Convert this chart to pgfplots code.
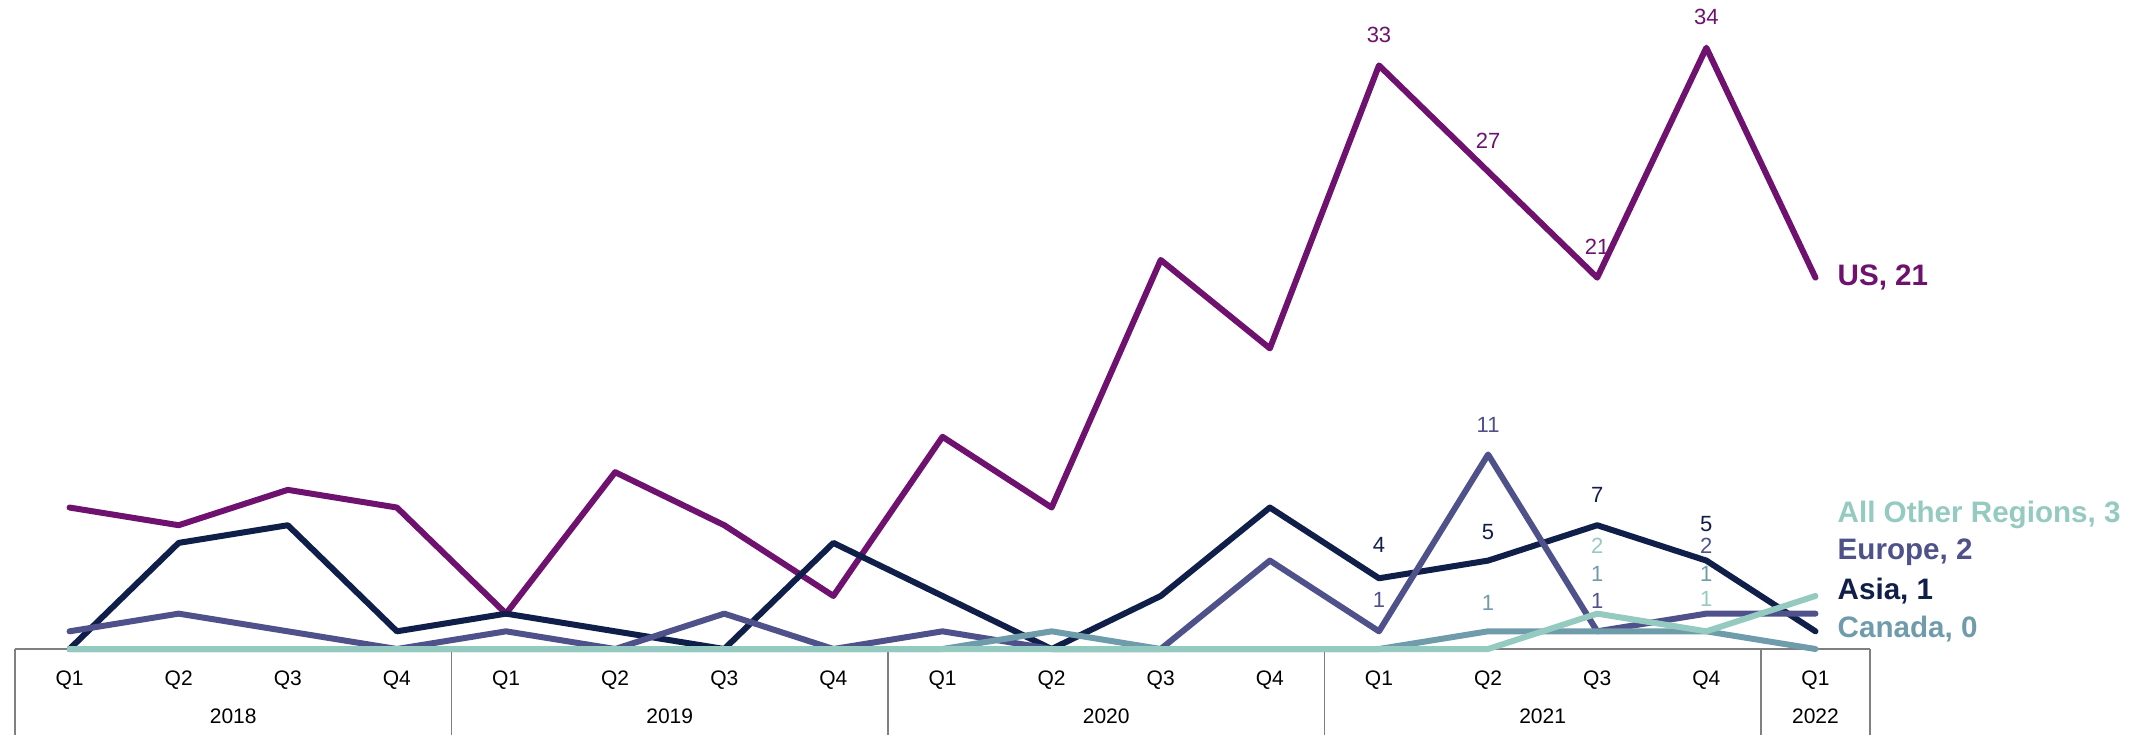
\documentclass[border=0pt]{standalone}
\usepackage{pgfplots}
\pgfplotsset{compat=1.18}
\usepackage{fontspec}
\setmainfont{Liberation Sans}
\definecolor{cUS}{RGB}{110,17,111}
\definecolor{cAsia}{RGB}{16,30,74}
\definecolor{cEur}{RGB}{78,81,138}
\definecolor{cCan}{RGB}{111,156,171}
\definecolor{cOth}{RGB}{148,202,192}
\definecolor{cBox}{RGB}{128,128,128}
\begin{document}
\begin{tikzpicture}
\begin{axis}[
  scale only axis, width=927.5pt, height=324.5pt,
  xmin=-0.5, xmax=16.5, ymin=0, ymax=36.7,
  clip=false,
  axis line style={draw=none}, tick style={draw=none},
  ytick=\empty,
  xtick={0,...,16},
  xticklabels={Q1,Q2,Q3,Q4,Q1,Q2,Q3,Q4,Q1,Q2,Q3,Q4,Q1,Q2,Q3,Q4,Q1},
  xticklabel style={font=\fontsize{10.5}{12}\selectfont, anchor=center, yshift=-15.5pt},
  every axis plot/.append style={line width=3pt, line join=round, line cap=round, mark=none},
]
\draw[cBox, line width=0.8pt] (axis cs:-0.5,0) -- (axis cs:16.5,0);
\foreach \xx in {-0.5,3.5,7.5,11.5,15.5,16.5}{
  \edef\tmp{\noexpand\draw[cBox, line width=0.8pt] (axis cs:\xx,0) -- ([yshift=-43pt]axis cs:\xx,0);}\tmp
}
\addplot[cUS] coordinates {(0,8)(1,7)(2,9)(3,8)(4,2)(5,10)(6,7)(7,3)(8,12)(9,8)(10,22)(11,17)(12,33)(13,27)(14,21)(15,34)(16,21)};
\addplot[cAsia] coordinates {(0,0)(1,6)(2,7)(3,1)(4,2)(5,1)(6,0)(7,6)(8,3)(9,0)(10,3)(11,8)(12,4)(13,5)(14,7)(15,5)(16,1)};
\addplot[cEur] coordinates {(0,1)(1,2)(2,1)(3,0)(4,1)(5,0)(6,2)(7,0)(8,1)(9,0)(10,0)(11,5)(12,1)(13,11)(14,1)(15,2)(16,2)};
\addplot[cCan] coordinates {(0,0)(1,0)(2,0)(3,0)(4,0)(5,0)(6,0)(7,0)(8,0)(9,1)(10,0)(11,0)(12,0)(13,1)(14,1)(15,1)(16,0)};
\addplot[cOth] coordinates {(0,0)(1,0)(2,0)(3,0)(4,0)(5,0)(6,0)(7,0)(8,0)(9,0)(10,0)(11,0)(12,0)(13,0)(14,2)(15,1)(16,3)};
% year labels
\foreach \xx/\yy in {1.5/2018,5.5/2019,9.5/2020,13.5/2021,16/2022}{
  \edef\tmp{\noexpand\node[font=\noexpand\fontsize{10.5}{12}\noexpand\selectfont] at (axis cs:\xx,0) [yshift=-33.5pt] {\yy};}\tmp
}
% data labels
\tikzset{dl/.style={font=\fontsize{11}{12}\selectfont, inner sep=0pt}}
\node[dl, text=cUS] at (axis cs:12,34.75) {33};
\node[dl, text=cUS] at (axis cs:13,28.75) {27};
\node[dl, text=cUS] at (axis cs:14,22.75) {21};
\node[dl, text=cUS] at (axis cs:15,35.75) {34};
\node[dl, text=cAsia] at (axis cs:12,5.9) {4};
\node[dl, text=cAsia] at (axis cs:13,6.6) {5};
\node[dl, text=cAsia] at (axis cs:14,8.7) {7};
\node[dl, text=cAsia] at (axis cs:15,7.06) {5};
\node[dl, text=cEur] at (axis cs:12,2.8) {1};
\node[dl, text=cEur] at (axis cs:13,12.65) {11};
\node[dl, text=cEur] at (axis cs:14,2.71) {1};
\node[dl, text=cEur] at (axis cs:15,5.83) {2};
\node[dl, text=cCan] at (axis cs:13,2.58) {1};
\node[dl, text=cCan] at (axis cs:14,4.22) {1};
\node[dl, text=cCan] at (axis cs:15,4.22) {1};
\node[dl, text=cOth] at (axis cs:14,5.83) {2};
\node[dl, text=cOth] at (axis cs:15,2.84) {1};
% end labels
\tikzset{el/.style={font=\fontsize{14.8}{16}\selectfont\bfseries, anchor=west, inner sep=0pt}}
\node[el, text=cUS] at (axis cs:16.2,21) {US, 21};
\node[el, text=cOth] at (axis cs:16.2,7.6) {All Other Regions, 3};
\node[el, text=cEur] at (axis cs:16.2,5.5) {Europe, 2};
\node[el, text=cAsia] at (axis cs:16.2,3.3) {Asia, 1};
\node[el, text=cCan] at (axis cs:16.2,1.15) {Canada, 0};
\coordinate (bl) at (axis cs:-0.5,0);
\coordinate (tr) at (axis cs:16.5,36.7);
\end{axis}
\pgfresetboundingbox
\path ([xshift=-7.5pt,yshift=-43pt]bl) rectangle ([xshift=134pt]tr);
\end{tikzpicture}
\end{document}
